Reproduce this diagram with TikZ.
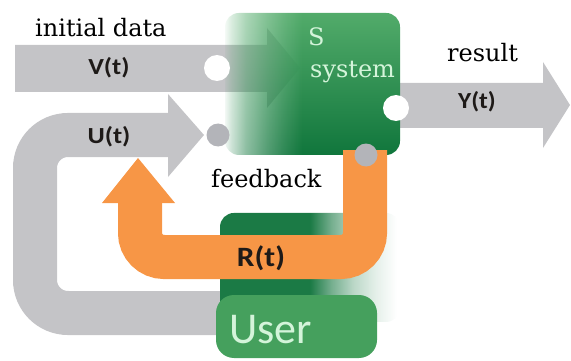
\documentclass[tikz,border=0pt]{standalone}
\usepackage{fontspec}
\usepackage{graphicx}
\setmainfont{DejaVu Serif}
\newfontfamily\lblfont{Carlito}
\usetikzlibrary{fadings}
\definecolor{arrgray}{HTML}{C4C4C7}
\definecolor{dotgray}{HTML}{B3B4B9}
\definecolor{orng}{HTML}{F79646}
\definecolor{sysTop}{HTML}{52AB6A}
\definecolor{sysBot}{HTML}{10763C}
\definecolor{userDark}{HTML}{1B7A45}
\definecolor{userLight}{HTML}{45A05D}
\definecolor{paleText}{HTML}{D4F4DA}
\definecolor{lblText}{HTML}{1E1A18}
\pgfdeclarehorizontalshading{sysfadeshade}{100bp}{color(0bp)=(pgftransparent!100); color(25bp)=(pgftransparent!95); color(27bp)=(pgftransparent!78); color(31bp)=(pgftransparent!52); color(37bp)=(pgftransparent!28); color(42bp)=(pgftransparent!12); color(47bp)=(pgftransparent!0); color(100bp)=(pgftransparent!0)}
\pgfdeclarefading{sysfade}{\pgfuseshading{sysfadeshade}}
\pgfdeclarehorizontalshading{userfadeshade}{100bp}{color(0bp)=(pgftransparent!0); color(50bp)=(pgftransparent!0); color(56bp)=(pgftransparent!40); color(62bp)=(pgftransparent!70); color(68bp)=(pgftransparent!88); color(74bp)=(pgftransparent!100); color(100bp)=(pgftransparent!100)}
\pgfdeclarefading{userfade}{\pgfuseshading{userfadeshade}}
\begin{document}
\begin{tikzpicture}[x=1pt,y=-1pt,
  serif/.style={font=\fontsize{24}{28}\selectfont, inner sep=0pt},
  lbl/.style={font=\lblfont\bfseries\fontsize{23}{26}\selectfont, text=lblText, inner sep=0pt},
  band/.style={line width=44pt, draw=arrgray},
  oband/.style={line width=44pt, draw=orng},
  whitedot/.style={circle, fill=white, minimum size=26pt, inner sep=0pt},
  graydot/.style={circle, fill=dotgray, minimum size=23pt, inner sep=0pt}]
\useasboundingbox (0,0) rectangle (571,361);
% U(t) feedback loop (gray)
\coordinate (uStart) at (232,313);
\coordinate (uBL) at (35,313);
\coordinate (uTL) at (35,135);
\coordinate (uEnd) at (170,135);
\draw[band, rounded corners=33pt] (uStart) -- (uBL) -- (uTL) -- (uEnd);
\fill[arrgray] (168,94) -- (204,135) -- (168,177) -- cycle;
% V(t) input arrow
\fill[arrgray] (15,45) -- (267,45) -- (267,28) -- (300,68) -- (267,108) -- (267,92) -- (15,92) -- cycle;
% Y(t) output arrow
\fill[arrgray] (395,83) -- (543,83) -- (543,62) -- (570,105) -- (543,148) -- (543,128) -- (395,128) -- cycle;
% system box
\shade[rounded corners=14pt, top color=sysTop, bottom color=sysBot, path fading=sysfade] (225,13) rectangle (400,155);
% user dark block
\fill[userDark, rounded corners=14pt, path fading=userfade] (220,213) rectangle (400,322);
% R(t) orange arrow
\coordinate (rStart) at (365,150);
\coordinate (rBR) at (365,257);
\coordinate (rBL) at (140,257);
\coordinate (rEnd) at (140,200);
\draw[oband, rounded corners=24pt] (rStart) -- (rBR) -- (rBL) -- (rEnd);
\fill[orng] (102,203) -- (138,158) -- (175,203) -- cycle;
% user light box
\fill[userLight, rounded corners=18pt] (216,295) rectangle (377,358);
% dots
\node[whitedot] (vdot) at (217,68) {};
\node[whitedot] (ydot) at (396,108) {};
\node[graydot] (udot) at (218,135) {};
\node[graydot] (rdot) at (366,155) {};
% texts
\node[serif, anchor=base west] (init) at (35,37) {initial data};
\node[serif, anchor=base west] (res) at (447,62) {result};
\node[serif, anchor=base west] (fb) at (211,187) {feedback};
\node[serif, anchor=base west, text=paleText] (sS) at (308,46) {S};
\node[serif, anchor=base west, text=paleText] (sys) at (310,78) {system};
\node[lbl] (vt) at (109,68) {\scalebox{1.15}[1]{V(t)}};
\node[lbl] (ut) at (109,137) {\scalebox{1.15}[1]{U(t)}};
\node[lbl] (yt) at (477,102) {\scalebox{1.1}[1]{Y(t)}};
\node[lbl, font=\lblfont\bfseries\fontsize{28}{30}\selectfont] (rt) at (261,258) {\scalebox{1.12}[1]{R(t)}};
\node[font=\lblfont\fontsize{44}{48}\selectfont, text=paleText, anchor=base west, inner sep=0pt] (user) at (229,343) {User};
\end{tikzpicture}
\end{document}
